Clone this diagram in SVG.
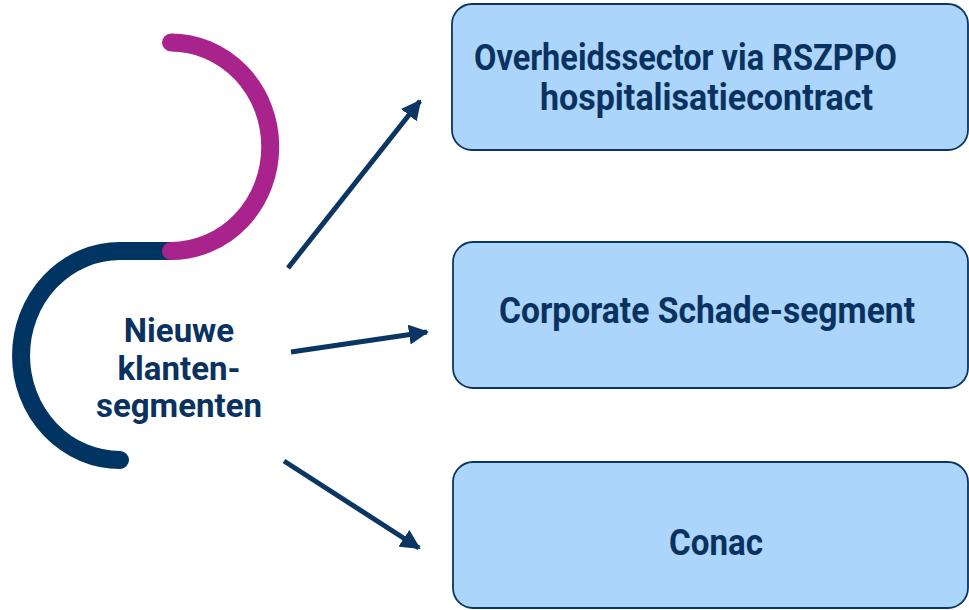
<svg xmlns="http://www.w3.org/2000/svg" width="969" height="610" viewBox="0 0 969 610">
<style>
.box{fill:#acd5fb;stroke:#0b3563;stroke-width:1.8}
.t{font-family:Roboto,"Liberation Sans",sans-serif;font-weight:bold;fill:#0a3260}
.bt{font-size:36px}
.ct{font-size:33px;text-anchor:middle}
.conn{stroke:#0b3563;stroke-width:5;fill:none;marker-end:url(#ah)}
</style>
<defs>
<marker id="ah" viewBox="0 0 10 10" refX="9" refY="5" markerWidth="4" markerHeight="4" orient="auto" markerUnits="strokeWidth">
<path d="M0,0 L10,5 L0,10 z" fill="#0b3563"/>
</marker>
</defs>
<rect width="969" height="610" fill="#ffffff"/>
<g id="center">
<path d="M171,251 H120 A99,104.5 0 0 0 120,460" fill="none" stroke="#003463" stroke-width="18" stroke-linecap="round"/>
<path d="M171,42.5 A99,104 0 0 1 171,251" fill="none" stroke="#a9238c" stroke-width="18" stroke-linecap="round"/>
<text class="t ct" x="179" y="342">Nieuwe</text>
<text class="t ct" x="179" y="380">klanten-</text>
<text class="t ct" x="179" y="417">segmenten</text>
</g>
<g id="connectors">
<line class="conn" x1="288" y1="268" x2="420" y2="101"/>
<line class="conn" x1="291" y1="352" x2="427" y2="332"/>
<line class="conn" x1="284" y1="461" x2="419" y2="548"/>
</g>
<g id="node1">
<rect class="box" x="452" y="4" width="516" height="146" rx="20"/>
<text class="t bt" x="474" y="70" textLength="423" lengthAdjust="spacingAndGlyphs">Overheidssector via RSZPPO</text>
<text class="t bt" x="540" y="110" textLength="333" lengthAdjust="spacingAndGlyphs">hospitalisatiecontract</text>
</g>
<g id="node2">
<rect class="box" x="453" y="242" width="515" height="146" rx="20"/>
<text class="t bt" x="499" y="323" textLength="416" lengthAdjust="spacingAndGlyphs">Corporate Schade-segment</text>
</g>
<g id="node3">
<rect class="box" x="453" y="462" width="515" height="146" rx="20"/>
<text class="t bt" x="669" y="555" textLength="94" lengthAdjust="spacingAndGlyphs">Conac</text>
</g>
</svg>
